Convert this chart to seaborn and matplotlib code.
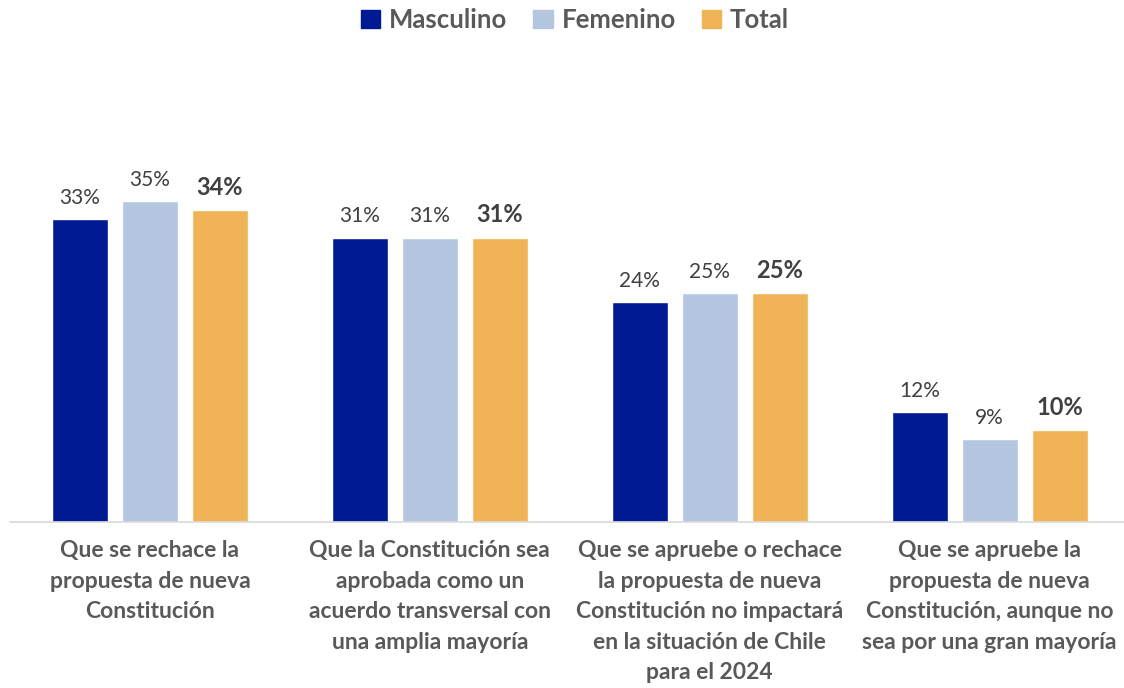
import pandas as pd
import matplotlib.pyplot as plt
import seaborn as sns
from matplotlib.patches import Patch

categorias = [
    "Que se rechace la\npropuesta de nueva\nConstitución",
    "Que la Constitución sea\naprobada como un\nacuerdo transversal con\nuna amplia mayoría",
    "Que se apruebe o rechace\nla propuesta de nueva\nConstitución no impactará\nen la situación de Chile\npara el 2024",
    "Que se apruebe la\npropuesta de nueva\nConstitución, aunque no\nsea por una gran mayoría",
]
grupos = ["Masculino", "Femenino", "Total"]
masculino = [33, 31, 24, 12]
femenino = [35, 31, 25, 9]
total = [34, 31, 25, 10]
colores = ["#001A94", "#B4C6E0", "#F0B456"]

data = pd.DataFrame({
    "categoria": categorias * 3,
    "grupo": [g for g in grupos for _ in categorias],
    "valor": masculino + femenino + total,
})

sns.set_style("white")
plt.rcParams["font.family"] = ["Lato", "DejaVu Sans"]
gris = "#595959"

fig = plt.figure(figsize=(11.24, 6.88), dpi=100)
ax = fig.add_axes([10 / 1124, 1 - 522 / 688, 1114 / 1124, 367 / 688])

sns.barplot(data=data, x="categoria", y="valor", hue="grupo", hue_order=grupos,
            palette=colores, width=0.75, gap=0.2, saturation=1, ax=ax, legend=False)

for i, cont in enumerate(ax.containers):
    bold = grupos[i] == "Total"
    ax.bar_label(cont, labels=[f"{v:.0f}%" for v in cont.datavalues], padding=8,
                 fontsize=17 if bold else 15, fontweight="bold" if bold else "normal",
                 color="#404040")

ax.set_xlim(-0.5, 3.48)
ax.set_ylim(0, 40)
ax.set_xlabel("")
ax.set_ylabel("")
ax.set_yticks([])
ax.tick_params(axis="x", length=0, pad=13)
ax.set_xticks(range(len(categorias)))
ax.set_xticklabels(categorias, fontsize=16.5, fontweight="bold", color=gris,
                   linespacing=1.56, va="top")
for s in ["top", "right", "left"]:
    ax.spines[s].set_visible(False)
ax.spines["bottom"].set_color("#D9D9D9")
ax.spines["bottom"].set_linewidth(1.2)

handles = [Patch(color=c, label=g) for c, g in zip(colores, grupos)]
leg = fig.legend(handles=handles, loc="center", bbox_to_anchor=(575 / 1124, 1 - 20 / 688),
                 ncol=3, frameon=False, handlelength=0.75, handleheight=0.75,
                 handletextpad=0.35, columnspacing=1.0,
                 prop={"weight": "bold", "size": 18.5})
for t in leg.get_texts():
    t.set_color(gris)

fig.savefig("out.png", dpi=100)
